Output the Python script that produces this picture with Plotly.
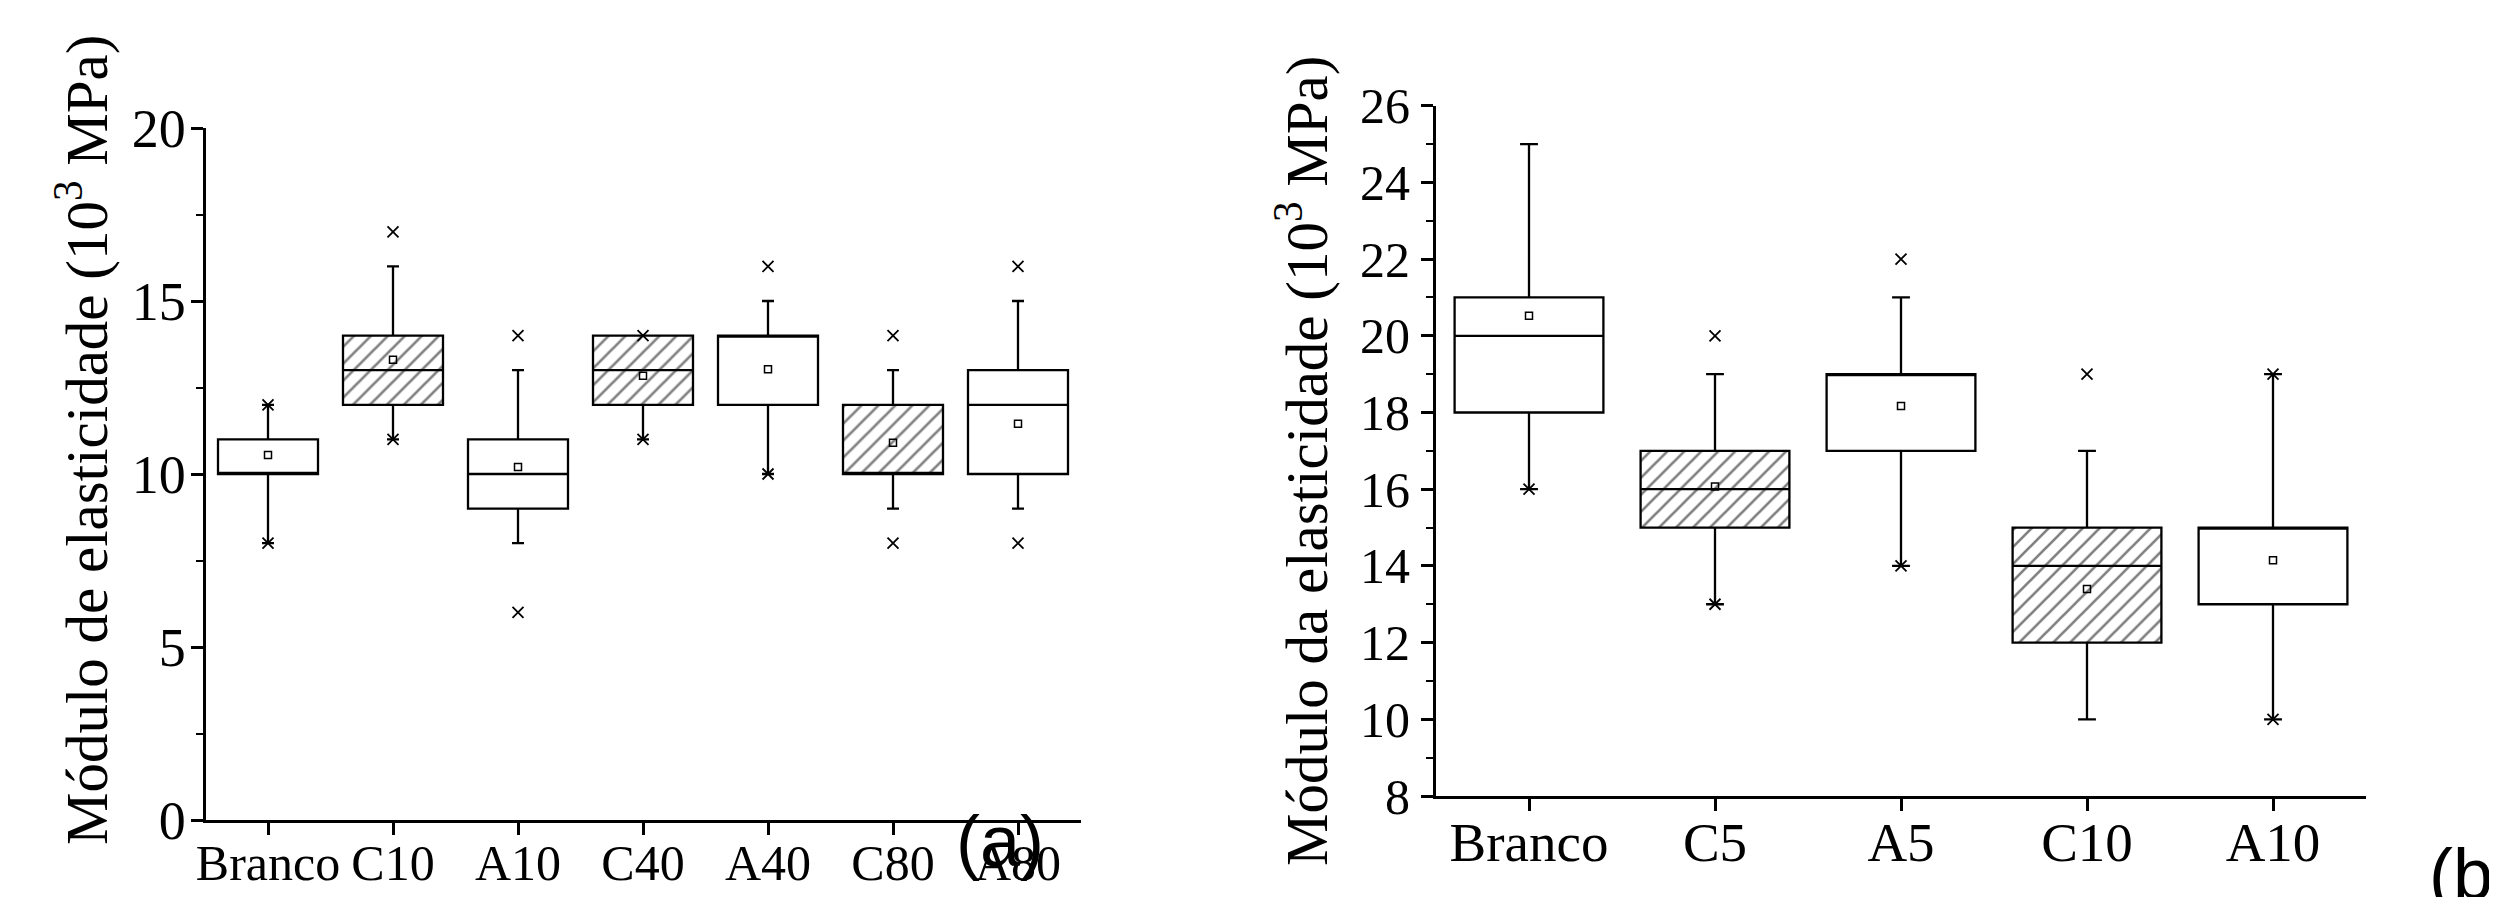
import plotly.graph_objects as go

PAGE_W, PAGE_H = 2497, 905
OFF = 8  # default body margin of the page
W, H = PAGE_W - 2 * OFF, PAGE_H - 2 * OFF


def fx(px):
    return (px - OFF) / W


def fy(py):
    return 1 - (py - OFF) / H


# ---------------- data (a) ----------------
cats_a = ["Branco", "C10", "A10", "C40", "A40", "C80", "A80"]
q1_a = [10, 12, 9, 12, 12, 10, 10]
med_a = [10, 13, 10, 13, 14, 10, 12]
q3_a = [11, 14, 11, 14, 14, 12, 13]
lo_a = [8, 11, 8, 11, 10, 9, 9]
hi_a = [12, 16, 13, 14, 15, 13, 15]
mean_a = [10.55, 13.3, 10.2, 12.84, 13.03, 10.9, 11.45]
hatched_a = ["C10", "C40", "C80"]
ext_a_x = ["Branco", "Branco", "C10", "C10", "A10", "A10", "C40", "C40",
           "A40", "A40", "C80", "C80", "A80", "A80"]
ext_a_y = [12, 8, 17, 11, 14, 6, 14, 11, 16, 10, 14, 8, 16, 8]

# ---------------- data (b) ----------------
cats_b = ["Branco", "C5", "A5", "C10", "A10"]
q1_b = [18, 15, 17, 12, 13]
med_b = [20, 16, 19, 14, 15]
q3_b = [21, 17, 19, 15, 15]
lo_b = [16, 13, 14, 10, 10]
hi_b = [25, 19, 21, 17, 19]
mean_b = [20.52, 16.07, 18.17, 13.4, 14.15]
hatched_b = ["C5", "C10"]
ext_b_x = ["Branco", "C5", "C5", "A5", "A5", "C10", "A10", "A10"]
ext_b_y = [16, 20, 13, 22, 14, 19, 19, 10]

SERIF = "Liberation Serif"
SANS = "Liberation Sans"

fig = go.Figure()


def add_panel(cats, q1, med, q3, lo, hi, mean, hatched, ex_x, ex_y, xa, ya):
    hx = [c for c in cats if c in hatched]
    hb = [q1[cats.index(c)] for c in hx]
    hh = [q3[cats.index(c)] - q1[cats.index(c)] for c in hx]
    fig.add_trace(go.Bar(
        x=hx, y=hh, base=hb, width=0.8, xaxis=xa, yaxis=ya,
        marker=dict(color="white", line=dict(width=0),
                    pattern=dict(shape="/", fgcolor="black", bgcolor="white",
                                 size=12, solidity=0.22)),
        showlegend=False, hoverinfo="skip"))
    fig.add_trace(go.Box(
        x=cats, q1=q1, median=med, q3=q3, lowerfence=lo, upperfence=hi,
        width=0.8, whiskerwidth=0.12, boxpoints=False,
        fillcolor="rgba(0,0,0,0)", line=dict(color="black", width=2.3),
        xaxis=xa, yaxis=ya, showlegend=False))
    fig.add_trace(go.Scatter(
        x=ex_x, y=ex_y, mode="markers", xaxis=xa, yaxis=ya,
        marker=dict(symbol="x-thin-open", size=11, color="black",
                    line=dict(color="black", width=1.8)),
        showlegend=False))
    fig.add_trace(go.Scatter(
        x=cats, y=mean, mode="markers", xaxis=xa, yaxis=ya,
        marker=dict(symbol="square-open", size=7, color="black",
                    line=dict(color="black", width=1.5)),
        showlegend=False))


add_panel(cats_a, q1_a, med_a, q3_a, lo_a, hi_a, mean_a, hatched_a,
          ext_a_x, ext_a_y, "x", "y")
add_panel(cats_b, q1_b, med_b, q3_b, lo_b, hi_b, mean_b, hatched_b,
          ext_b_x, ext_b_y, "x2", "y2")

axis_common = dict(showline=True, linecolor="black", linewidth=3,
                   ticks="outside", ticklen=12, tickwidth=2.5, tickcolor="black",
                   showgrid=False, zeroline=False, automargin=False)

fig.update_layout(
    width=W, height=H,
    margin=dict(l=0, r=0, t=0, b=0, autoexpand=False),
    paper_bgcolor="white", plot_bgcolor="white",
    barmode="overlay",
    xaxis=dict(domain=[fx(205.5), fx(1080.5)], anchor="y",
               categoryorder="array", categoryarray=cats_a,
               range=[-0.5, 6.5],
               tickfont=dict(family=SERIF, size=50, color="black"),
               ticklabelstandoff=-15,
               **axis_common),
    yaxis=dict(domain=[fy(820), fy(128)], anchor="x",
               range=[0, 20], tickvals=[0, 5, 10, 15, 20],
               minor=dict(tickvals=[2.5, 7.5, 12.5, 17.5], ticklen=7,
                          tickwidth=2, tickcolor="black", ticks="outside"),
               tickfont=dict(family=SERIF, size=54, color="black"),
               ticklabelstandoff=-6,
               **axis_common),
    xaxis2=dict(domain=[fx(1436), fx(2366)], anchor="y2",
                categoryorder="array", categoryarray=cats_b,
                range=[-0.5, 4.5],
                tickfont=dict(family=SERIF, size=55, color="black"),
                ticklabelstandoff=-16,
                **axis_common),
    yaxis2=dict(domain=[fy(796), fy(105.7)], anchor="x2",
                range=[8, 26], tickvals=list(range(8, 27, 2)),
                minor=dict(tickvals=list(range(9, 26, 2)), ticklen=7,
                           tickwidth=2, tickcolor="black", ticks="outside"),
                tickfont=dict(family=SERIF, size=50, color="black"),
                ticklabelstandoff=1,
                **axis_common),
)

fig.add_annotation(text="Módulo de elasticidade (10<sup>3</sup> MPa)",
                   textangle=-90, x=fx(82), y=fy(440),
                   xref="paper", yref="paper", showarrow=False,
                   xanchor="center", yanchor="middle",
                   font=dict(family=SERIF, size=59, color="black"))
fig.add_annotation(text="Módulo da elasticidade (10<sup>3</sup> MPa)",
                   textangle=-90, x=fx(1302), y=fy(461),
                   xref="paper", yref="paper", showarrow=False,
                   xanchor="center", yanchor="middle",
                   font=dict(family=SERIF, size=59, color="black"))
fig.add_annotation(text="(a)", x=fx(1000), y=fy(841),
                   xref="paper", yref="paper", showarrow=False,
                   xanchor="center", yanchor="middle",
                   font=dict(family=SANS, size=72, color="black"))
fig.add_annotation(text="(b)", x=fx(2427), y=fy(874),
                   xref="paper", yref="paper", showarrow=False,
                   xanchor="left", yanchor="middle",
                   font=dict(family=SANS, size=72, color="black"))

fig.write_html("out.html")
